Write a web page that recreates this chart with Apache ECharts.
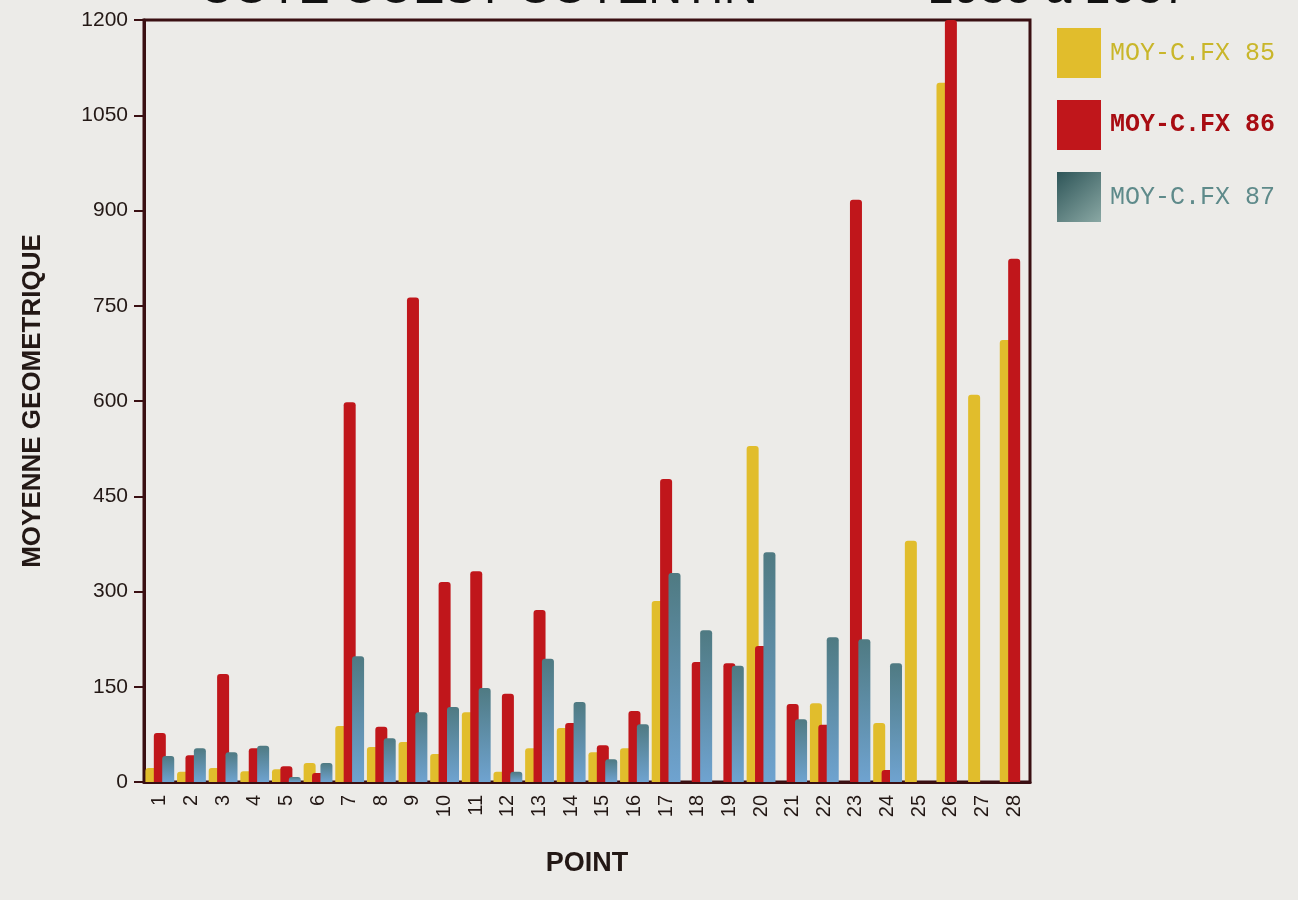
<!DOCTYPE html>
<html>
<head>
<meta charset="utf-8">
<script src="https://cdn.jsdelivr.net/npm/echarts@6/dist/echarts.min.js"></script>
<style>
  html, body { margin: 0; padding: 0; background: #ecebe8; }
  #chart { width: 1298px; height: 900px; }
</style>
</head>
<body>
<div id="chart"></div>
<script>
// points 1..28
const points = ['1','2','3','4','5','6','7','8','9','10','11','12','13','14',
  '15','16','17','18','19','20','21','22','23','24','25','26','27','28'];

const moy85 = [22, 16, 22, 17, 20, 30, 88, 55, 63, 44, 110, 16, 53, 85,
  47, 53, 285, 0, 0, 529, 0, 124, 0, 93, 380, 1101, 610, 696];
const moy86 = [77, 42, 170, 53, 25, 14, 598, 87, 763, 315, 332, 139, 271, 93,
  58, 112, 477, 189, 187, 214, 123, 90, 917, 19, 0, 1200, 0, 824];
const moy87 = [41, 53, 47, 57, 8, 30, 198, 69, 110, 118, 148, 16, 194, 126,
  36, 91, 329, 239, 183, 362, 99, 228, 225, 187, 0, 0, 0, 0];

const yTicks = { min: 0, max: 1200, step: 150 };

const dark = '#3a0f12';
const txt = '#231815';

const blueFill = new echarts.graphic.LinearGradient(0, 0, 0, 1, [
  { offset: 0, color: '#4f7a82' },
  { offset: 1, color: '#6fa3d0' }
]);
const blueKey = new echarts.graphic.LinearGradient(0, 0, 1, 1, [
  { offset: 0, color: '#2e5558' },
  { offset: 1, color: '#8aa8a4' }
]);

const chart = echarts.init(document.getElementById('chart'));

const option = {
  backgroundColor: '#ecebe8',
  animation: false,
  title: {
    text: 'COTE OUEST COTENTIN             1985 à 1987',
    left: 194,
    top: -38,
    textStyle: { fontFamily: 'Liberation Sans', fontSize: 47, fontWeight: 'normal', color: '#111' }
  },
  legend: {
    orient: 'vertical',
    left: 1052,
    top: 23,
    itemWidth: 44,
    itemHeight: 50,
    itemGap: 22,
    icon: 'rect',
    textStyle: { fontFamily: 'Liberation Mono', fontSize: 25, padding: [0, 0, 0, 4] },
    data: [
      { name: 'MOY-C.FX 85', textStyle: { color: '#c9b62a' } },
      { name: 'MOY-C.FX 86', textStyle: { color: '#a80c12', fontWeight: 'bold' } },
      { name: 'MOY-C.FX 87', textStyle: { color: '#5e8a8a' }, itemStyle: { color: blueKey } }
    ]
  },
  grid: {
    left: 144,
    top: 20,
    width: 886,
    height: 762,
    show: true,
    borderColor: dark,
    borderWidth: 3
  },
  xAxis: {
    type: 'category',
    data: points,
    name: 'POINT',
    nameLocation: 'middle',
    nameGap: 68,
    nameTextStyle: { fontFamily: 'Liberation Sans', fontSize: 27, fontWeight: 'bold', color: txt },
    axisLine: { lineStyle: { color: dark, width: 3 } },
    axisTick: { alignWithLabel: true, length: 10, lineStyle: { color: dark, width: 2 } },
    axisLabel: { rotate: 90, fontFamily: 'Liberation Sans', fontSize: 20, color: txt, margin: 13, interval: 0 }
  },
  yAxis: {
    type: 'value',
    min: yTicks.min,
    max: yTicks.max,
    interval: yTicks.step,
    name: 'MOYENNE GEOMETRIQUE',
    nameLocation: 'middle',
    nameGap: 98,
    nameTextStyle: { fontFamily: 'Liberation Sans', fontSize: 26, fontWeight: 'bold', color: txt },
    splitLine: { show: false },
    axisLine: { show: true, lineStyle: { color: dark, width: 3 } },
    axisTick: { show: true, length: 10, lineStyle: { color: dark, width: 2 } },
    axisLabel: {
      fontFamily: 'Liberation Sans', fontSize: 21, color: txt, margin: 16,
      formatter: v => String(v)
    }
  },
  series: [
    {
      name: 'MOY-C.FX 85',
      type: 'bar',
      data: moy85,
      barWidth: 12,
      barGap: '-30%',
      itemStyle: { color: '#e1bd2c', borderRadius: [3, 3, 0, 0] }
    },
    {
      name: 'MOY-C.FX 86',
      type: 'bar',
      data: moy86,
      barWidth: 12,
      barGap: '-30%',
      itemStyle: { color: '#c0161b', borderRadius: [3, 3, 0, 0] }
    },
    {
      name: 'MOY-C.FX 87',
      type: 'bar',
      data: moy87,
      barWidth: 12,
      barGap: '-30%',
      itemStyle: { color: blueFill, borderRadius: [3, 3, 0, 0] }
    }
  ]
};

chart.setOption(option);
</script>
</body>
</html>
